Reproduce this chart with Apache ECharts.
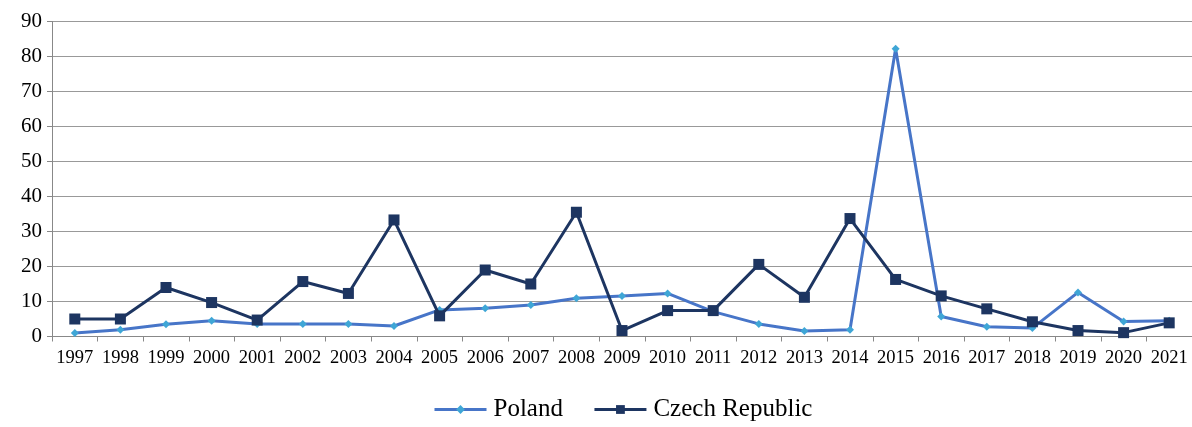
<!DOCTYPE html>
<html>
<head>
<meta charset="utf-8">
<script src="https://cdn.jsdelivr.net/npm/echarts@6/dist/echarts.min.js"></script>
<style>html,body{margin:0;padding:0;background:#fff;}#c{width:1192px;height:427px;}</style>
</head>
<body>
<div id="c"></div>
<script>
const years = ['1997','1998','1999','2000','2001','2002','2003','2004','2005','2006','2007','2008','2009','2010','2011','2012','2013','2014','2015','2016','2017','2018','2019','2020','2021'];
const poland = [1.0,1.9,3.5,4.5,3.6,3.6,3.6,3.0,7.6,8.1,9.0,10.9,11.6,12.3,7.1,3.6,1.6,1.9,82.2,5.7,2.8,2.4,12.6,4.3,4.5];
const czech = [5.0,5.0,14.0,9.7,4.7,15.7,12.3,33.3,5.9,19.0,15.0,35.5,1.7,7.4,7.4,20.6,11.2,33.7,16.3,11.6,7.9,4.2,1.7,1.1,3.9];
const yTicks = [0,10,20,30,40,50,60,70,80,90];

const chart = echarts.init(document.getElementById('c'));
const font = '"Liberation Serif", "Times New Roman", serif';
chart.setOption({
  animation: false,
  grid: {left: 52, right: 0, top: 21.5, bottom: 90.5},
  legend: {
    bottom: 0, left: 428,
    itemWidth: 52, itemHeight: 11, itemGap: 30,
    textStyle: {fontFamily: font, fontSize: 25, color: '#000', padding: [0, 0, 0, 2]},
    data: [
      {name: 'Poland', lineStyle: {width: 3}},
      {name: 'Czech Republic', lineStyle: {width: 3}}
    ]
  },
  xAxis: {
    type: 'category', data: years, boundaryGap: true,
    axisLine: {lineStyle: {color: '#888', width: 1}},
    axisTick: {show: true, length: 5, lineStyle: {color: '#888'}},
    axisLabel: {fontFamily: font, fontSize: 18.5, color: '#000', margin: 12, interval: 0}
  },
  yAxis: {
    type: 'value', min: 0, max: 90, interval: 10,
    axisLine: {show: true, lineStyle: {color: '#888'}},
    axisTick: {show: true, length: 5, inside: false, lineStyle: {color: '#888'}},
    splitLine: {lineStyle: {color: '#999', width: 1}},
    axisLabel: {fontFamily: font, fontSize: 21, color: '#000', margin: 10,
      formatter: v => yTicks.includes(v) ? String(v) : ''}
  },
  series: [
    {
      name: 'Poland', type: 'line', data: poland,
      symbol: 'diamond', symbolSize: 8,
      lineStyle: {color: '#4775c8', width: 3},
      itemStyle: {color: '#3fa6d6', borderWidth: 0},
      z: 2
    },
    {
      name: 'Czech Republic', type: 'line', data: czech,
      symbol: 'rect', symbolSize: 11,
      lineStyle: {color: '#1d3561', width: 3},
      itemStyle: {color: '#1d3561', borderWidth: 0},
      z: 3
    }
  ]
});
</script>
</body>
</html>
